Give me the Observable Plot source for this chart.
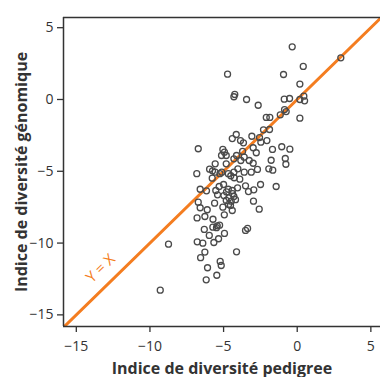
<!DOCTYPE html>
<html>
<head>
<meta charset="utf-8">
<script src="https://cdn.jsdelivr.net/npm/d3@7"></script>
<script src="https://cdn.jsdelivr.net/npm/@observablehq/plot@0.6"></script>
<style>
  html, body { margin: 0; padding: 0; background: white; }
</style>
</head>
<body>
<div id="chart"></div>
<script>
const pedigree = [
  -0.34, 2.96, -4.73, -0.93, 0.41, 0.18, -4.24, -4.30, -3.44, -2.65,
  -0.88, -0.52, 0.18, 0.45, 0.50, -0.86, -0.75, -1.15, -2.10, -1.86,
  0.18, -4.14, -4.41, -3.85, -3.65, -3.08, -2.56, -2.29, -1.88, -2.47,
  -2.06, -6.72, -5.05, -4.94, -5.14, -4.82, -4.12, -3.71, -2.99, -2.78,
  -1.68, -1.05, -0.50, -1.77, -0.81, -0.77, -4.30, -3.83, -3.60, -3.26,
  -2.99, -4.82, -5.57, -5.95, -5.75, -5.57, -5.12, -4.68, -4.30, -4.03,
  -3.60, -3.12, -2.70, -1.93, -1.66, -6.82, -5.77, -5.25, -4.51, -4.28,
  -3.90, -2.49, -1.43, -5.00, -5.30, -5.53, -6.59, -6.16, -4.68, -4.41,
  -4.05, -3.51, -3.31, -2.95, -4.98, -4.64, -4.30, -4.82, -4.48, -4.19,
  -5.41, -6.72, -5.61, -6.59, -6.11, -5.05, -4.53, -4.41, -2.97, -2.58,
  -6.80, -6.27, -5.72, -4.95, -6.31, -5.73, -5.43, -5.27, -5.48, -4.94,
  -5.97, -5.34, -6.79, -6.41, -5.66, -3.51, -3.37, -8.74, -6.27, -6.56,
  -4.12, -5.23, -5.16, -6.09, -6.18, -5.46, -9.30, -4.80, -4.39, -4.66
];
const genomique = [
  3.67, 2.90, 1.76, 1.74, 2.30, 1.07, 0.35, 0.19, 0.00, -0.40,
  0.02, 0.07, 0.00, 0.23, -0.09, -0.70, -0.84, -1.07, -1.25, -1.25,
  -1.30, -2.44, -2.72, -2.86, -3.02, -2.56, -2.65, -2.11, -2.09, -2.97,
  -2.86, -3.43, -3.48, -3.67, -3.90, -3.90, -3.90, -3.62, -3.36, -3.71,
  -3.48, -3.29, -3.46, -4.23, -4.11, -4.51, -4.13, -4.25, -4.02, -4.25,
  -4.44, -4.48, -4.48, -4.85, -4.97, -5.06, -5.06, -5.17, -5.06, -4.83,
  -5.06, -5.06, -4.87, -4.83, -4.92, -5.17, -5.48, -5.17, -5.31, -5.45,
  -5.55, -5.92, -6.06, -5.92, -6.06, -6.34, -6.25, -6.36, -6.25, -6.34,
  -6.15, -6.01, -6.41, -6.29, -6.69, -6.85, -6.75, -7.03, -7.08, -6.98,
  -6.64, -7.15, -7.22, -7.54, -7.68, -7.50, -7.38, -7.73, -7.08, -7.64,
  -8.25, -8.15, -8.34, -8.03, -9.05, -8.89, -8.80, -8.75, -8.93, -9.33,
  -9.47, -9.70, -9.91, -10.01, -9.96, -9.12, -8.98, -10.08, -10.63, -11.02,
  -10.61, -11.28, -11.56, -11.72, -12.56, -12.24, -13.28, -6.44, -6.55, -7.31
];
const xTicks = [-15, -10, -5, 0, 5];
const yTicks = [-15, -10, -5, 0, 5];
const xLabel = "Indice de diversité pedigree";
const yLabel = "Indice de diversité génomique";
const identityLabel = "Y = X";
const identityEnds = [-16, 6];

const points = pedigree.map((p, i) => ({p, g: genomique[i]}));
const xDomain = [-15.87, 5.655];
const yDomain = [-15.81, 5.71];
const orange = "#f47d20";
const ink = "#333333";

const chart = Plot.plot({
  width: 380,
  height: 377,
  marginLeft: 63,
  marginRight: 0,
  marginTop: 17,
  marginBottom: 51,
  style: {fontFamily: "'Open Sans', sans-serif", color: ink, background: "white", overflow: "visible"},
  x: {domain: xDomain},
  y: {domain: yDomain},
  marks: [
    Plot.axisX({ticks: xTicks, tickSize: 6, tickPadding: 9, fontSize: 14, label: null, strokeWidth: 1.3}),
    Plot.axisY({ticks: yTicks, tickSize: 6, tickPadding: 4, fontSize: 14, label: null, strokeWidth: 1.3}),
    Plot.line(identityEnds, {x: d => d, y: d => d, stroke: orange, strokeWidth: 3, clip: true}),
    Plot.dot(points, {x: "p", y: "g", r: 3, stroke: "#4a4a4a", strokeWidth: 1.3, fill: "none"}),
    Plot.ruleX([xDomain[0]], {stroke: ink, strokeWidth: 1.5}),
    Plot.ruleY([yDomain[0], yDomain[1]], {stroke: ink, strokeWidth: 1.5}),
    Plot.text([identityLabel], {x: -13.35, y: -11.77, text: d => d, rotate: -44, fill: orange, fontSize: 15}),
    Plot.text([xLabel], {frameAnchor: "bottom", dy: 42, textAnchor: "middle", lineAnchor: "middle", text: d => d, fontSize: 16, fontWeight: "bold", fill: ink}),
    Plot.text([yLabel], {frameAnchor: "left", dx: -42, rotate: -90, textAnchor: "middle", lineAnchor: "middle", text: d => d, fontSize: 16, fontWeight: "bold", fill: ink})
  ]
});
document.getElementById("chart").append(chart);
</script>
</body>
</html>
